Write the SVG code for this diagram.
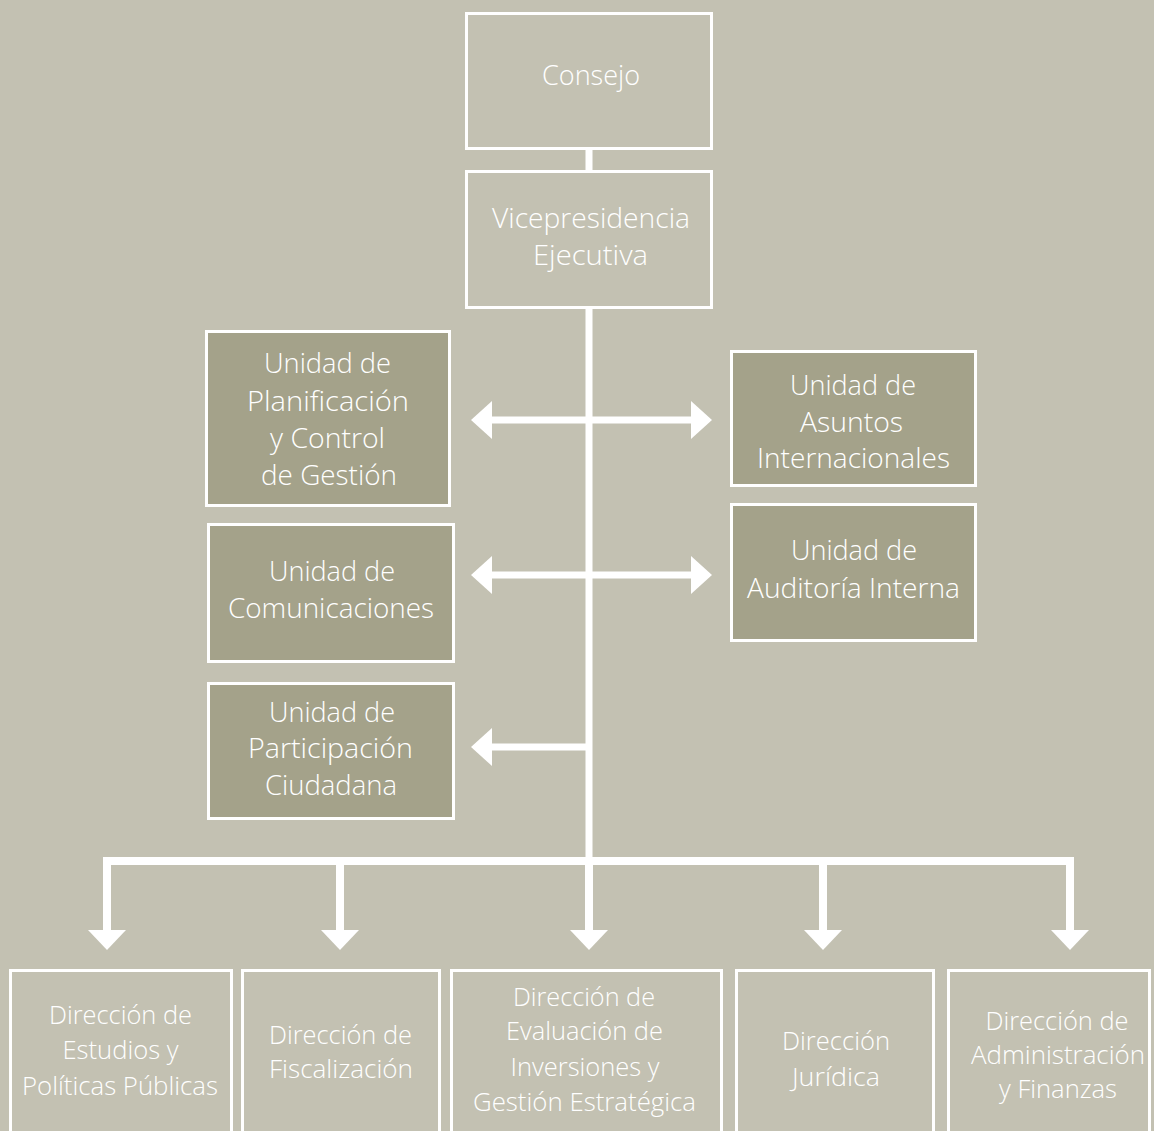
<svg xmlns="http://www.w3.org/2000/svg" width="1154" height="1131" viewBox="0 0 1154 1131">
<style>
.bg{fill:#c3c1b2}
.box{fill:#c3c1b2;stroke:#ffffff;stroke-width:3}
.dark{fill:#a4a28a;stroke:#ffffff;stroke-width:3}
.t{font-family:"Open Sans","Noto Sans","DejaVu Sans",sans-serif;font-size:28px;font-weight:300;fill:#ffffff;text-anchor:middle}
.b{font-size:25px}
.w{fill:#ffffff}
</style>
<rect class="bg" x="0" y="0" width="1154" height="1131"/>
<g id="connectors">
  <rect class="w" x="585.5" y="149" width="7" height="22"/>
  <rect class="w" x="585.5" y="309" width="7" height="556"/>
  <rect class="w" x="490" y="416.5" width="203" height="7"/>
  <polygon class="w" points="471,420 492,401 492,439"/>
  <polygon class="w" points="712,420 691,401 691,439"/>
  <rect class="w" x="490" y="571.5" width="203" height="7"/>
  <polygon class="w" points="471,575 492,556 492,594"/>
  <polygon class="w" points="712,575 691,556 691,594"/>
  <rect class="w" x="490" y="743.5" width="99" height="7"/>
  <polygon class="w" points="471,747 492,728 492,766"/>
  <rect class="w" x="103" y="857" width="971" height="8"/>
  <rect class="w" x="103" y="857" width="8" height="75"/>
  <polygon class="w" points="88,930 126,930 107,950"/>
  <rect class="w" x="336" y="857" width="8" height="75"/>
  <polygon class="w" points="321,930 359,930 340,950"/>
  <rect class="w" x="585" y="857" width="8" height="75"/>
  <polygon class="w" points="570,930 608,930 589,950"/>
  <rect class="w" x="819" y="857" width="8" height="75"/>
  <polygon class="w" points="804,930 842,930 823,950"/>
  <rect class="w" x="1066" y="857" width="8" height="75"/>
  <polygon class="w" points="1051,930 1089,930 1070,950"/>
</g>
<g id="consejo">
  <rect class="box" x="466.5" y="13.5" width="245" height="135"/>
  <text class="t" x="591" y="85" textLength="98" lengthAdjust="spacingAndGlyphs">Consejo</text>
</g>
<g id="vicepresidencia">
  <rect class="box" x="466.5" y="171.5" width="245" height="136"/>
  <text class="t" x="591" y="228" textLength="198" lengthAdjust="spacingAndGlyphs">Vicepresidencia</text>
  <text class="t" x="590.5" y="265" textLength="115" lengthAdjust="spacingAndGlyphs">Ejecutiva</text>
</g>
<g id="planificacion">
  <rect class="dark" x="206.5" y="331.5" width="243" height="174"/>
  <text class="t" x="327.5" y="373" textLength="127" lengthAdjust="spacingAndGlyphs">Unidad de</text>
  <text class="t" x="328" y="411" textLength="162" lengthAdjust="spacingAndGlyphs">Planificación</text>
  <text class="t" x="327.5" y="448" textLength="115" lengthAdjust="spacingAndGlyphs">y Control</text>
  <text class="t" x="329" y="485" textLength="136" lengthAdjust="spacingAndGlyphs">de Gestión</text>
</g>
<g id="asuntos">
  <rect class="dark" x="731.5" y="351.5" width="244" height="134"/>
  <text class="t" x="853" y="395" textLength="126" lengthAdjust="spacingAndGlyphs">Unidad de</text>
  <text class="t" x="851.5" y="432" textLength="103" lengthAdjust="spacingAndGlyphs">Asuntos</text>
  <text class="t" x="853.5" y="468" textLength="193" lengthAdjust="spacingAndGlyphs">Internacionales</text>
</g>
<g id="auditoria">
  <rect class="dark" x="731.5" y="504.5" width="244" height="136"/>
  <text class="t" x="854" y="560" textLength="126" lengthAdjust="spacingAndGlyphs">Unidad de</text>
  <text class="t" x="853.5" y="598" textLength="213" lengthAdjust="spacingAndGlyphs">Auditoría Interna</text>
</g>
<g id="comunicaciones">
  <rect class="dark" x="208.5" y="524.5" width="245" height="137"/>
  <text class="t" x="332" y="581" textLength="126" lengthAdjust="spacingAndGlyphs">Unidad de</text>
  <text class="t" x="331" y="618" textLength="206" lengthAdjust="spacingAndGlyphs">Comunicaciones</text>
</g>
<g id="participacion">
  <rect class="dark" x="208.5" y="683.5" width="245" height="135"/>
  <text class="t" x="332" y="722" textLength="126" lengthAdjust="spacingAndGlyphs">Unidad de</text>
  <text class="t" x="330.5" y="758" textLength="165" lengthAdjust="spacingAndGlyphs">Participación</text>
  <text class="t" x="331" y="795" textLength="132" lengthAdjust="spacingAndGlyphs">Ciudadana</text>
</g>
<g id="estudios">
  <rect class="box" x="10.5" y="970.5" width="221" height="175"/>
  <text class="t b" x="120.5" y="1024" textLength="143" lengthAdjust="spacingAndGlyphs">Dirección de</text>
  <text class="t b" x="120.5" y="1059" textLength="116" lengthAdjust="spacingAndGlyphs">Estudios y</text>
  <text class="t b" x="120" y="1095" textLength="196" lengthAdjust="spacingAndGlyphs">Políticas Públicas</text>
</g>
<g id="fiscalizacion">
  <rect class="box" x="242.5" y="970.5" width="197" height="175"/>
  <text class="t b" x="340.5" y="1044" textLength="143" lengthAdjust="spacingAndGlyphs">Dirección de</text>
  <text class="t b" x="341" y="1078" textLength="144" lengthAdjust="spacingAndGlyphs">Fiscalización</text>
</g>
<g id="evaluacion">
  <rect class="box" x="451.5" y="970.5" width="270" height="175"/>
  <text class="t b" x="584" y="1006" textLength="142" lengthAdjust="spacingAndGlyphs">Dirección de</text>
  <text class="t b" x="584.5" y="1040" textLength="157" lengthAdjust="spacingAndGlyphs">Evaluación de</text>
  <text class="t b" x="585" y="1076" textLength="149" lengthAdjust="spacingAndGlyphs">Inversiones y</text>
  <text class="t b" x="584.5" y="1111" textLength="223" lengthAdjust="spacingAndGlyphs">Gestión Estratégica</text>
</g>
<g id="juridica">
  <rect class="box" x="736.5" y="970.5" width="197" height="175"/>
  <text class="t b" x="836" y="1050" textLength="108" lengthAdjust="spacingAndGlyphs">Dirección</text>
  <text class="t b" x="836" y="1086" textLength="88" lengthAdjust="spacingAndGlyphs">Jurídica</text>
</g>
<g id="administracion">
  <rect class="box" x="948.5" y="970.5" width="201" height="175"/>
  <text class="t b" x="1057" y="1030" textLength="143" lengthAdjust="spacingAndGlyphs">Dirección de</text>
  <text class="t b" x="1058" y="1064" textLength="174" lengthAdjust="spacingAndGlyphs">Administración</text>
  <text class="t b" x="1058" y="1098" textLength="118" lengthAdjust="spacingAndGlyphs">y Finanzas</text>
</g>
</svg>
